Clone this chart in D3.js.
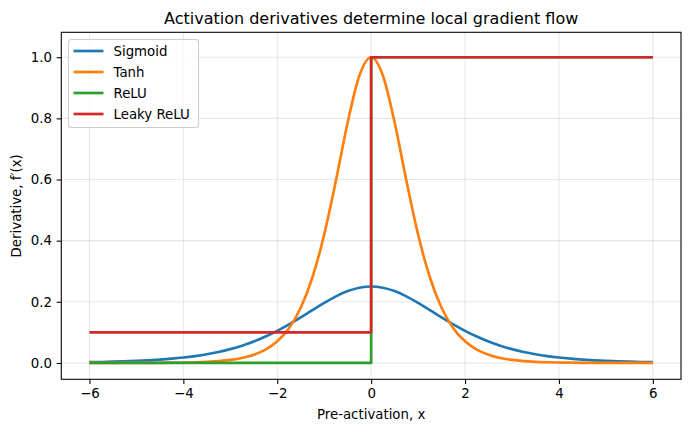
<!DOCTYPE html>
<html><head><meta charset="utf-8">
<script src="https://cdn.jsdelivr.net/npm/d3@7"></script>
<style>
html,body{margin:0;padding:0;background:#fff;}
svg{display:block;font-family:"DejaVu Sans",sans-serif;}
</style></head>
<body>
<svg id="chart" width="691" height="432"></svg>
<script>
// ---- data ----
const xValues = [-6,-5.75,-5.5,-5.25,-5,-4.75,-4.5,-4.25,-4,-3.75,-3.5,-3.25,-3,-2.75,-2.5,-2.25,-2,-1.75,-1.5,-1.25,-1,-0.75,-0.5,-0.25,0,
  0.25,0.5,0.75,1,1.25,1.5,1.75,2,2.25,2.5,2.75,3,3.25,3.5,3.75,4,4.25,4.5,4.75,5,5.25,5.5,5.75,6];
const sigmoidValues = [0.0025,0.0032,0.0041,0.0052,0.0066,0.0085,0.0109,0.0139,0.0177,0.0225,0.0285,0.0359,0.0452,0.0565,0.0701,0.0863,0.1050,0.1261,0.1491,0.1731,0.1966,0.2179,0.2350,0.2461,0.2500,
  0.2461,0.2350,0.2179,0.1966,0.1731,0.1491,0.1261,0.1050,0.0863,0.0701,0.0565,0.0452,0.0359,0.0285,0.0225,0.0177,0.0139,0.0109,0.0085,0.0066,0.0052,0.0041,0.0032,0.0025];
const tanhValues = [0.00002,0.00004,0.00007,0.00011,0.00018,0.0003,0.00049,0.00081,0.00134,0.00221,0.00364,0.00598,0.0099,0.0162,0.0266,0.0435,0.0707,0.1137,0.1807,0.2804,0.4200,0.5966,0.7864,0.9400,1.0,
  0.9400,0.7864,0.5966,0.4200,0.2804,0.1807,0.1137,0.0707,0.0435,0.0266,0.0162,0.0099,0.00598,0.00364,0.00221,0.00134,0.00081,0.00049,0.0003,0.00018,0.00011,0.00007,0.00004,0.00002];
const reluX = [-6, 0, 0, 6];
const reluValues = [0, 0, 1, 1];
const leakyX = [-6, 0, 0, 6];
const leakyValues = [0.1, 0.1, 1, 1];
const seriesNames = ["Sigmoid", "Tanh", "ReLU", "Leaky ReLU"];
const xTicks = [-6,-4,-2,0,2,4,6];
const yTicks = [0.0,0.2,0.4,0.6,0.8,1.0];
const titleText = "Activation derivatives determine local gradient flow";
const xLabel = "Pre-activation, x";
const yLabel = "Derivative, f\u2032(x)";

// ---- layout ----
const colors = ["#1f77b4","#ff7f0e","#2ca02c","#d62728"];
const L = 61.3, R = 681, T = 32.3, B = 379.3;
const svg = d3.select("#chart");
const x = d3.scaleLinear().domain([-6.6, 6.6]).range([L, R]);
const y = d3.scaleLinear().domain([-0.0535, 1.0815]).range([B, T]);

// grid
const g = svg.append("g");
g.selectAll(".vg").data(xTicks).join("line")
  .attr("x1", d => x(d)).attr("x2", d => x(d)).attr("y1", T).attr("y2", B)
  .attr("stroke", "#b0b0b0").attr("stroke-opacity", 0.3).attr("stroke-width", 1.07);
g.selectAll(".hg").data(yTicks).join("line")
  .attr("y1", d => y(d)).attr("y2", d => y(d)).attr("x1", L).attr("x2", R)
  .attr("stroke", "#b0b0b0").attr("stroke-opacity", 0.3).attr("stroke-width", 1.07);

// series
const series = [
  {xs: xValues, ys: sigmoidValues, curve: d3.curveMonotoneX},
  {xs: xValues, ys: tanhValues, curve: d3.curveMonotoneX},
  {xs: reluX, ys: reluValues, curve: d3.curveLinear},
  {xs: leakyX, ys: leakyValues, curve: d3.curveLinear}
];
series.forEach((s, i) => {
  const pts = s.xs.map((xv, j) => [xv, s.ys[j]]);
  const line = d3.line().x(d => x(d[0])).y(d => y(d[1])).curve(s.curve);
  svg.append("path").datum(pts).attr("d", line)
    .attr("fill", "none").attr("stroke", colors[i]).attr("stroke-width", 2.67)
    .attr("stroke-linejoin", "round").attr("stroke-linecap", "butt");
});

// axes
const xAxis = svg.append("g").attr("transform", `translate(0,${B})`)
  .call(d3.axisBottom(x).tickValues(xTicks).tickSize(4.67).tickPadding(4.67)
    .tickFormat(d => d3.format("d")(d).replace("-", "\u2212")));
const yAxis = svg.append("g").attr("transform", `translate(${L},0)`)
  .call(d3.axisLeft(y).tickValues(yTicks).tickSize(4.67).tickPadding(4.67)
    .tickFormat(d3.format(".1f")));
[xAxis, yAxis].forEach(a => {
  a.select(".domain").remove();
  a.selectAll("line").attr("stroke", "#000").attr("stroke-width", 1.07);
  a.selectAll("text").attr("font-size", 13.33).attr("fill", "#000")
    .attr("font-family", "DejaVu Sans, sans-serif");
});
// spines
svg.append("rect").attr("x", L).attr("y", T).attr("width", R - L).attr("height", B - T)
  .attr("fill", "none").attr("stroke", "#000").attr("stroke-width", 1.07);

// title & labels
svg.append("text").attr("x", (L + R) / 2).attr("y", 23.5).attr("text-anchor", "middle")
  .attr("font-size", 16).attr("fill", "#000").text(titleText);
svg.append("text").attr("x", (L + R) / 2).attr("y", 418.5).attr("text-anchor", "middle")
  .attr("font-size", 13.33).attr("fill", "#000").text(xLabel);
svg.append("text").attr("transform", `translate(20.5,${(T + B) / 2}) rotate(-90)`)
  .attr("text-anchor", "middle").attr("font-size", 13.33).attr("fill", "#000").text(yLabel);

// legend
const lg = svg.append("g");
lg.append("rect").attr("x", 68.5).attr("y", 39.5).attr("width", 130).attr("height", 88)
  .attr("rx", 3).attr("fill", "#fff").attr("fill-opacity", 0.8)
  .attr("stroke", "#cccccc").attr("stroke-width", 1.07);
seriesNames.forEach((name, i) => {
  const cy = 51 + i * 21;
  lg.append("line").attr("x1", 73.5).attr("x2", 103.5).attr("y1", cy).attr("y2", cy)
    .attr("stroke", colors[i]).attr("stroke-width", 2.67);
  lg.append("text").attr("x", 113.5).attr("y", cy + 4.8).attr("font-size", 13.33)
    .attr("fill", "#000").text(name);
});
</script>
</body></html>
